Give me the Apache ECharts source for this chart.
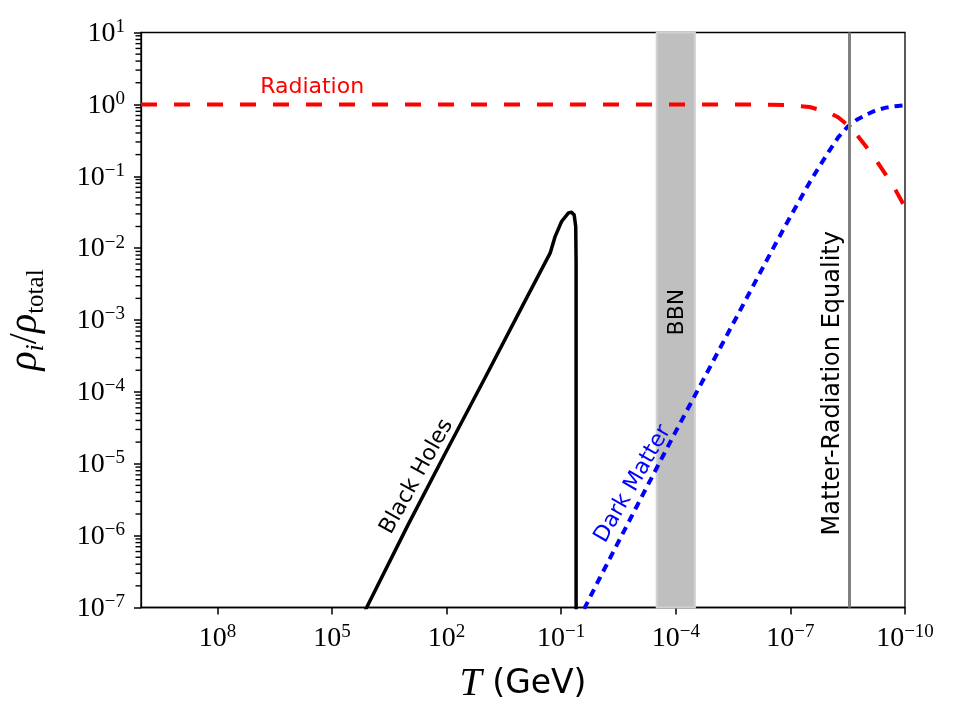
<!DOCTYPE html>
<html>
<head>
<meta charset="utf-8">
<script src="https://cdn.jsdelivr.net/npm/echarts@6/dist/echarts.min.js"></script>
<style>
  html, body { margin: 0; background: #fff; }
  #chart { width: 960px; height: 720px; }
</style>
</head>
<body>
<div id="chart"></div>
<script>
// all values are log10: x = log10(T / GeV), y = log10(rho_i / rho_total)
const radiationLogT = [10, 6, 2, -2, -5, -6, -6.5, -7, -7.5, -8, -8.25, -8.5, -8.75, -9, -9.25, -9.5, -9.75, -10];
const radiationLogRho = [0, 0, 0, 0, 0, -0.002, -0.005, -0.013, -0.037, -0.11, -0.18, -0.29, -0.43, -0.6, -0.78, -0.98, -1.19, -1.43];

const darkMatterLogT = [-1.6, -2, -3, -4, -5, -6, -6.5, -7, -7.5, -7.75, -8, -8.25, -8.5, -8.75, -9, -9.25, -9.5, -9.75, -10];
const darkMatterLogRho = [-7.02, -6.6, -5.57, -4.55, -3.55, -2.55, -2.05, -1.56, -1.09, -0.87, -0.66, -0.46, -0.31, -0.21, -0.14, -0.08, -0.045, -0.025, -0.012];

const blackHoleLogT = [4.14, 3, 2, 1, 0, -0.62, -0.71, -0.84, -1.01, -1.19, -1.27, -1.34, -1.38, -1.39, -1.39];
const blackHoleLogRho = [-7.05, -5.84, -4.82, -3.81, -2.79, -2.16, -2.07, -1.84, -1.63, -1.51, -1.5, -1.54, -1.7, -2.2, -7.5];

const bbnLogT = [-3.5, -4.5];
const equalityLogT = -8.53;

const xTicks = [-10, -7, -4, -1, 2, 5, 8];
const yTicks = [-7, -6, -5, -4, -3, -2, -1, 0, 1];

// minor ticks of a log axis: 2..9 x 10^n
const yMinor = [];
for (let n = -7; n < 1; n++) {
  for (let k = 2; k <= 9; k++) yMinor.push(n + Math.log10(k));
}

const zip = (xs, ys) => xs.map((x, i) => [x, ys[i]]);
const expLabel = (v) => {
  const e = Math.round(v);
  return '{b|10}{s|' + (e < 0 ? '\u2212' + (-e) : String(e)) + '}';
};

const serif = 'Liberation Serif';
const sans = 'DejaVu Sans';
const tickRich = {
  b: { fontFamily: serif, fontSize: 28, color: '#000', lineHeight: 30, verticalAlign: 'bottom' },
  s: { fontFamily: serif, fontSize: 19, color: '#000', lineHeight: 14, verticalAlign: 'top' }
};

const chart = echarts.init(document.getElementById('chart'));

const option = {
  animation: false,
  grid: {
    left: 141, right: 55, top: 32.5, bottom: 112.5,
    outerBoundsMode: 'none',
    show: true, borderColor: '#000', borderWidth: 1.3
  },
  xAxis: {
    type: 'value',
    min: -10, max: 10,
    inverse: true,
    splitLine: { show: false },
    axisLine: { onZero: false, lineStyle: { color: '#000', width: 1.3 } },
    axisTick: { customValues: xTicks, length: 7, lineStyle: { color: '#000', width: 1.5 } },
    axisLabel: { customValues: xTicks, margin: 15, formatter: expLabel, rich: tickRich },
    name: '{i|T}{g| (GeV)}',
    nameLocation: 'middle',
    nameGap: 57,
    nameTextStyle: {
      rich: {
        i: { fontFamily: serif, fontStyle: 'italic', fontSize: 40, color: '#000' },
        g: { fontFamily: sans, fontSize: 33, color: '#000' }
      }
    }
  },
  yAxis: {
    type: 'value',
    min: -7, max: 1,
    splitLine: { show: false },
    axisLine: { onZero: false, lineStyle: { color: '#000', width: 1.3 } },
    axisTick: { customValues: yTicks, length: 7, lineStyle: { color: '#000', width: 1.5 } },
    axisLabel: { customValues: yTicks, margin: 16, formatter: expLabel, rich: tickRich },
    name: '{r|\u03c1}{si|i}{sl|/}{r|\u03c1}{sb|total}',
    nameLocation: 'middle',
    nameGap: 92,
    nameTextStyle: {
      rich: {
        r: { fontFamily: serif, fontStyle: 'italic', fontSize: 40, color: '#000', lineHeight: 44, verticalAlign: 'top' },
        sl: { fontFamily: serif, fontSize: 40, color: '#000', lineHeight: 44, verticalAlign: 'top' },
        si: { fontFamily: serif, fontStyle: 'italic', fontSize: 26, color: '#000', lineHeight: 24, verticalAlign: 'bottom' },
        sb: { fontFamily: serif, fontSize: 25, color: '#000', lineHeight: 24, verticalAlign: 'bottom' }
      }
    }
  },
  series: [
    {
      name: 'markers',
      type: 'line',
      z: 1,
      data: [],
      silent: true,
      markArea: {
        silent: true,
        itemStyle: { color: '#bfbfbf', borderColor: '#d2d2d2', borderWidth: 2 },
        data: [[{ xAxis: bbnLogT[0] }, { xAxis: bbnLogT[1] }]]
      },
      markLine: {
        silent: true,
        symbol: 'none',
        label: { show: false },
        lineStyle: { color: '#808080', width: 3, type: 'solid' },
        data: [{ xAxis: equalityLogT }]
      }
    },
    {
      name: 'Radiation',
      type: 'line',
      showSymbol: false,
      data: zip(radiationLogT, radiationLogRho),
      lineStyle: { color: '#ff0000', width: 4, type: [16, 17], cap: 'butt' }
    },
    {
      name: 'Dark Matter',
      type: 'line',
      showSymbol: false,
      data: zip(darkMatterLogT, darkMatterLogRho),
      lineStyle: { color: '#0000ff', width: 4, type: [8, 6], cap: 'butt' }
    },
    {
      name: 'Black Holes',
      type: 'line',
      showSymbol: false,
      data: zip(blackHoleLogT, blackHoleLogRho),
      lineStyle: { color: '#000', width: 3.5, join: 'round' }
    }
  ]
};

chart.setOption(option);

// text annotations and minor ticks placed through the axis scales
const at = (x, y) => chart.convertToPixel({ xAxisIndex: 0, yAxisIndex: 0 }, [x, y]);
const note = (text, x, y, color, deg, size) => {
  const p = at(x, y);
  return {
    type: 'text', x: p[0], y: p[1], rotation: deg * Math.PI / 180, z: 10,
    style: { text: text, fill: color, font: size + 'px "' + sans + '"', align: 'center', verticalAlign: 'middle' }
  };
};
const minorTick = (v) => {
  const p = at(10, v);
  return {
    type: 'rect', z: 10, silent: true,
    shape: { x: p[0] - 5.5, y: p[1] - 0.7, width: 5.5, height: 1.4 },
    style: { fill: '#000' }
  };
};

chart.setOption({
  graphic: {
    elements: [
      note('Radiation', 5.52, 0.24, '#ff0000', 0, 22),
      note('Black Holes', 2.78, -5.18, '#000', 61, 22),
      note('Dark Matter', -2.88, -5.28, '#0000ff', 60, 22),
      note('BBN', -4.03, -2.89, '#000', 90, 22),
      note('Matter-Radiation Equality', -8.12, -3.88, '#000', 90, 24)
    ].concat(yMinor.map(minorTick))
  }
});
</script>
</body>
</html>
